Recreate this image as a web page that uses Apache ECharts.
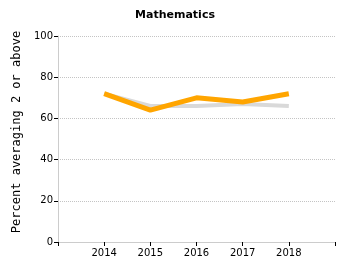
<!DOCTYPE html>
<html>
<head>
<meta charset="utf-8">
<script src="https://cdn.jsdelivr.net/npm/echarts@6/dist/echarts.min.js"></script>
<style>
    html, body {margin: 0; padding: 0; background: #fff;}
    #chart {width: 350px; height: 275px;}
</style>
</head>
<body>
<div id="chart"></div>
<script>
    var years = [2014, 2015, 2016, 2017, 2018];
    var stateVals = [72, 66, 66, 67, 66];
    var schoolVals = [72, 64, 70, 68, 72];
    var yTicks = [0, 20, 40, 60, 80, 100];

    function pairs(vals) {
        return years.map(function (y, i) {
            return [y, vals[i]];
        });
    }

    var myChart = echarts.init(document.getElementById('chart'));

    var option = {
        animation: false,
        title: {
            text: 'Mathematics',
            left: 'center',
            top: 5,
            textStyle: {fontFamily: 'DejaVu Sans', fontSize: 11, fontWeight: 'bold', color: '#000'}
        },
        grid: {left: 58, right: 15, top: 36, bottom: 33},
        xAxis: {
            type: 'value',
            min: 2013,
            max: 2019,
            interval: 1,
            axisLine: {lineStyle: {color: '#ccc'}},
            axisTick: {length: 4, lineStyle: {color: '#000'}},
            splitLine: {show: false},
            axisLabel: {
                fontFamily: 'DejaVu Sans', fontSize: 10, color: '#000', margin: 6,
                formatter: function (v) {
                    return years.indexOf(v) >= 0 ? String(v) : '';
                }
            }
        },
        yAxis: {
            type: 'value',
            min: yTicks[0],
            max: yTicks[yTicks.length - 1],
            interval: 20,
            name: 'Percent averaging 2 or above',
            nameLocation: 'middle',
            nameGap: 35,
            nameTextStyle: {fontFamily: 'DejaVu Sans Mono', fontSize: 12, color: '#000', padding: [0, 0, 0, 14]},
            axisLine: {show: true, lineStyle: {color: '#ccc'}},
            axisTick: {show: true, length: 4, lineStyle: {color: '#000'}},
            splitLine: {lineStyle: {color: '#c4c4c4', type: 'dotted'}},
            axisLabel: {fontFamily: 'DejaVu Sans', fontSize: 10, color: '#000', margin: 5}
        },
        series: [
            {
                type: 'line',
                data: pairs(stateVals),
                symbol: 'none',
                lineStyle: {color: '#d9d9d9', width: 4},
                z: 2
            },
            {
                type: 'line',
                data: pairs(schoolVals),
                symbol: 'none',
                lineStyle: {color: '#ffa500', width: 5},
                z: 3
            }
        ]
    };

    myChart.setOption(option);
</script>
</body>
</html>
